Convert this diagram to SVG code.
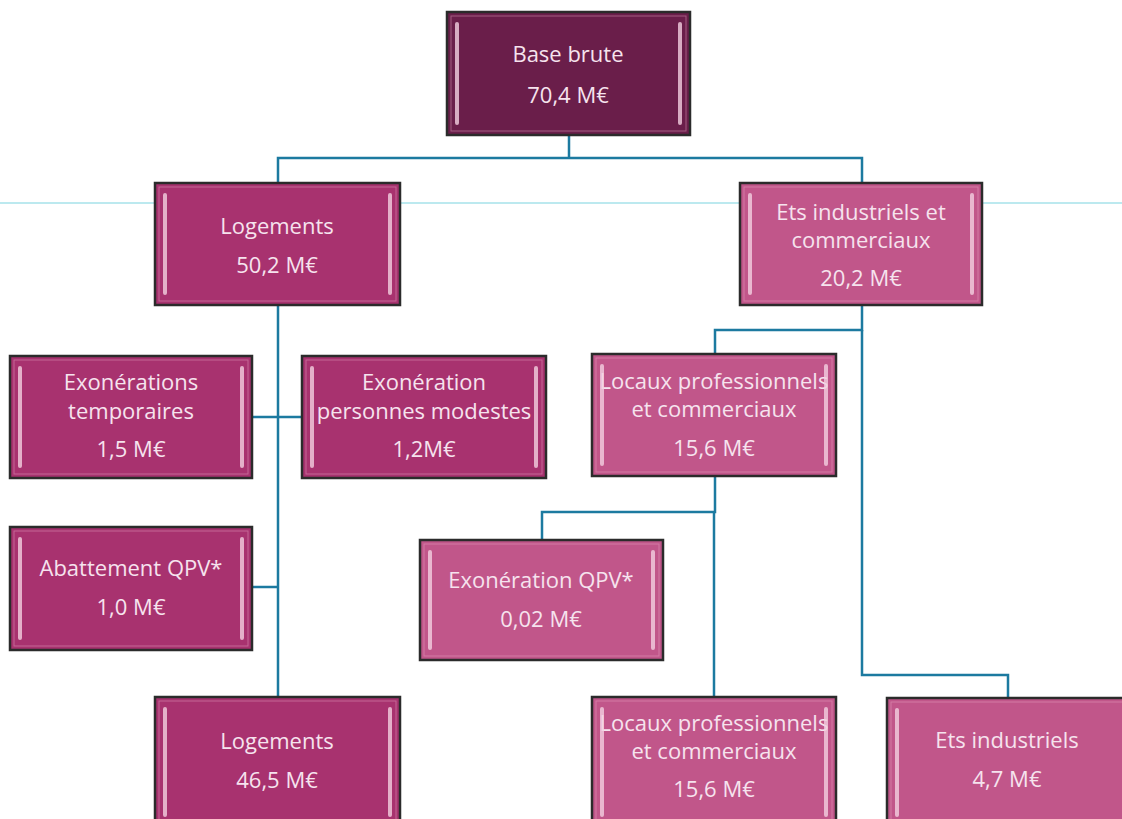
<svg xmlns="http://www.w3.org/2000/svg" width="1122" height="819" viewBox="0 0 1122 819">
<style>
.box{stroke:#2b2b2b;stroke-width:2.5}
.dark{fill:#6a1e4a}
.mid{fill:#a8326f}
.light{fill:#c1568a}
.bev{stroke:#f3cfe0;stroke-width:4;stroke-linecap:round;fill:none;opacity:0.8}
.inner{fill:none;stroke:#e7a9c6;stroke-width:1;opacity:0.45}
text{font-family:"Open Sans","Liberation Sans",sans-serif;font-size:22px;fill:#f6e3ee;text-anchor:middle}
.con{fill:none;stroke:#1c7aa0;stroke-width:2.5}
</style>
<rect width="1122" height="819" fill="#ffffff"/>
<line x1="0" y1="203" x2="1122" y2="203" stroke="#a6e2ea" stroke-width="1.5"/>
<g id="connectors">
<path class="con" d="M569,135 V158 M278,183 V158 H862 V183"/>
<path class="con" d="M278,305 V697"/>
<path class="con" d="M252,417 H302"/>
<path class="con" d="M252,587 H278"/>
<path class="con" d="M862,305 V330 H715 V354"/>
<path class="con" d="M862,330 V675 H1008 V698"/>
<path class="con" d="M715,476 V512 H542 V540"/>
<path class="con" d="M714,512 V697"/>
</g>
<g id="base">
<rect class="box dark" x="447" y="12" width="243" height="123"/>
<rect class="inner" x="451" y="16" width="235" height="115"/>
<path class="bev" d="M457,24 V123 M680,24 V123"/>
<text x="568" y="62">Base brute</text>
<text x="568" y="103">70,4 M€</text>
</g>
<g id="logements">
<rect class="box mid" x="155" y="183" width="245" height="122"/>
<rect class="inner" x="159" y="187" width="237" height="114"/>
<path class="bev" d="M165,195 V293 M390,195 V293"/>
<text x="277" y="234">Logements</text>
<text x="277" y="273">50,2 M€</text>
</g>
<g id="ets">
<rect class="box light" x="740" y="183" width="242" height="122"/>
<rect class="inner" x="744" y="187" width="234" height="114"/>
<path class="bev" d="M750,195 V293 M972,195 V293"/>
<text x="861" y="220">Ets industriels et</text>
<text x="861" y="248">commerciaux</text>
<text x="861" y="286">20,2 M€</text>
</g>
<g id="exo-temp">
<rect class="box mid" x="10" y="356" width="242" height="122"/>
<rect class="inner" x="14" y="360" width="234" height="114"/>
<path class="bev" d="M20,368 V466 M242,368 V466"/>
<text x="131" y="390">Exonérations</text>
<text x="131" y="419">temporaires</text>
<text x="131" y="457">1,5 M€</text>
</g>
<g id="exo-pers">
<rect class="box mid" x="302" y="356" width="244" height="122"/>
<rect class="inner" x="306" y="360" width="236" height="114"/>
<path class="bev" d="M312,368 V466 M536,368 V466"/>
<text x="424" y="390">Exonération</text>
<text x="424" y="419">personnes modestes</text>
<text x="424" y="457">1,2M€</text>
</g>
<g id="abattement">
<rect class="box mid" x="10" y="527" width="242" height="123"/>
<rect class="inner" x="14" y="531" width="234" height="115"/>
<path class="bev" d="M20,539 V638 M242,539 V638"/>
<text x="131" y="576">Abattement QPV*</text>
<text x="131" y="615">1,0 M€</text>
</g>
<g id="logements2">
<rect class="box mid" x="155" y="697" width="245" height="130"/>
<rect class="inner" x="159" y="701" width="237" height="122"/>
<path class="bev" d="M165,709 V815 M390,709 V815"/>
<text x="277" y="749">Logements</text>
<text x="277" y="788">46,5 M€</text>
</g>
<g id="locaux1">
<rect class="box light" x="592" y="354" width="244" height="122"/>
<rect class="inner" x="596" y="358" width="236" height="114"/>
<text x="714" y="389">Locaux professionnels</text>
<text x="714" y="417">et commerciaux</text>
<text x="714" y="456">15,6 M€</text>
<path class="bev" d="M602,366 V464 M826,366 V464"/>
</g>
<g id="exo-qpv">
<rect class="box light" x="420" y="540" width="243" height="120"/>
<rect class="inner" x="424" y="544" width="235" height="112"/>
<path class="bev" d="M430,552 V648 M653,552 V648"/>
<text x="541" y="588">Exonération QPV*</text>
<text x="541" y="627">0,02 M€</text>
</g>
<g id="locaux2">
<rect class="box light" x="592" y="697" width="244" height="130"/>
<rect class="inner" x="596" y="701" width="236" height="122"/>
<text x="714" y="731">Locaux professionnels</text>
<text x="714" y="759">et commerciaux</text>
<text x="714" y="797">15,6 M€</text>
<path class="bev" d="M602,709 V815 M826,709 V815"/>
</g>
<g id="ets-ind">
<rect class="box light" x="887" y="698" width="245" height="130"/>
<rect class="inner" x="891" y="702" width="237" height="122"/>
<path class="bev" d="M897,710 V815"/>
<text x="1007" y="748">Ets industriels</text>
<text x="1007" y="787">4,7 M€</text>
</g>
</svg>
